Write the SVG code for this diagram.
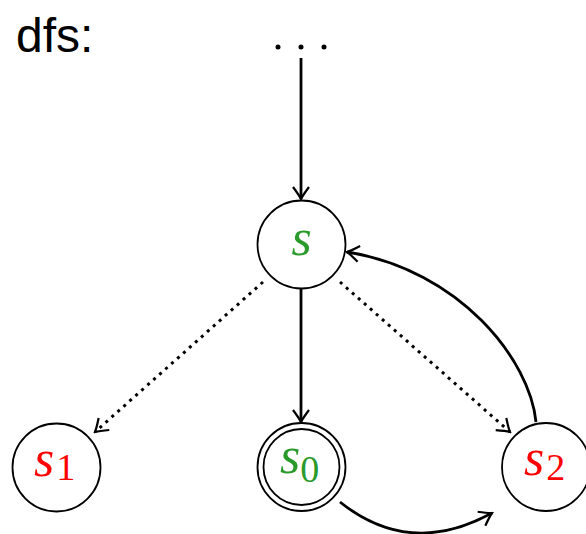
<svg xmlns="http://www.w3.org/2000/svg" width="586" height="534" viewBox="0 0 586 534">
  <style>
    .node { fill: #ffffff; stroke: #000000; stroke-width: 1.8; }
    .edge { fill: none; stroke: #000000; stroke-width: 2.8; }
    .dot  { fill: none; stroke: #000000; stroke-width: 3; stroke-dasharray: 3 5; }
    .lbl  { font-family: "Liberation Serif", "DejaVu Serif", serif; font-style: italic; font-size: 52px; }
    .sub  { font-family: "Liberation Serif", "DejaVu Serif", serif; font-style: normal; font-size: 38px; }
    .green { fill: #2a9a2a; }
    .red   { fill: #ff0000; }
    .title { font-family: "Liberation Sans", Arial, sans-serif; font-size: 48px; fill: #000000; }
  </style>
  <defs>
    <marker id="arrow" viewBox="-14 -10 16 20" refX="0" refY="0" markerWidth="16" markerHeight="20" markerUnits="userSpaceOnUse" orient="auto">
      <path d="M -12 -8 Q -4 -2 0 0 Q -4 2 -12 8" fill="none" stroke="#000000" stroke-width="2.2"/>
    </marker>
  </defs>

  <text class="title" x="16" y="52">dfs:</text>
  <g id="ellipsis" fill="#000000">
    <circle cx="278" cy="47" r="2.5"/>
    <circle cx="301" cy="47" r="2.5"/>
    <circle cx="324" cy="47" r="2.5"/>
  </g>

  <g id="connectors">
    <line class="edge" x1="301" y1="58" x2="301" y2="199" marker-end="url(#arrow)"/>
    <line class="edge" x1="301" y1="289" x2="301" y2="422" marker-end="url(#arrow)"/>
    <line class="dot" x1="263" y1="282" x2="95" y2="432" marker-end="url(#arrow)"/>
    <line class="dot" x1="340" y1="282" x2="510" y2="432" marker-end="url(#arrow)"/>
    <path class="edge" d="M 536 422 C 530 360 460 270 347 252" marker-end="url(#arrow)"/>
    <path class="edge" d="M 340 502 Q 410 558 492 513" marker-end="url(#arrow)"/>
  </g>

  <g id="node-s">
    <circle class="node" cx="301.5" cy="244.5" r="44"/>
    <text class="lbl green" x="301.5" y="255" text-anchor="middle">s</text>
  </g>

  <g id="node-s1">
    <circle class="node" cx="56.5" cy="467.5" r="44"/>
    <text class="red" x="34" y="476"><tspan class="lbl">s</tspan><tspan class="sub" dx="2" dy="4">1</tspan></text>
  </g>

  <g id="node-s0">
    <circle class="node" cx="301.5" cy="467" r="44"/>
    <circle class="node" cx="301.5" cy="467" r="38"/>
    <text class="green" x="280" y="473"><tspan class="lbl">s</tspan><tspan class="sub" dy="9">0</tspan></text>
  </g>

  <g id="node-s2">
    <circle class="node" cx="546" cy="467" r="44"/>
    <text class="red" x="524" y="475"><tspan class="lbl">s</tspan><tspan class="sub" dx="2" dy="5">2</tspan></text>
  </g>
</svg>
